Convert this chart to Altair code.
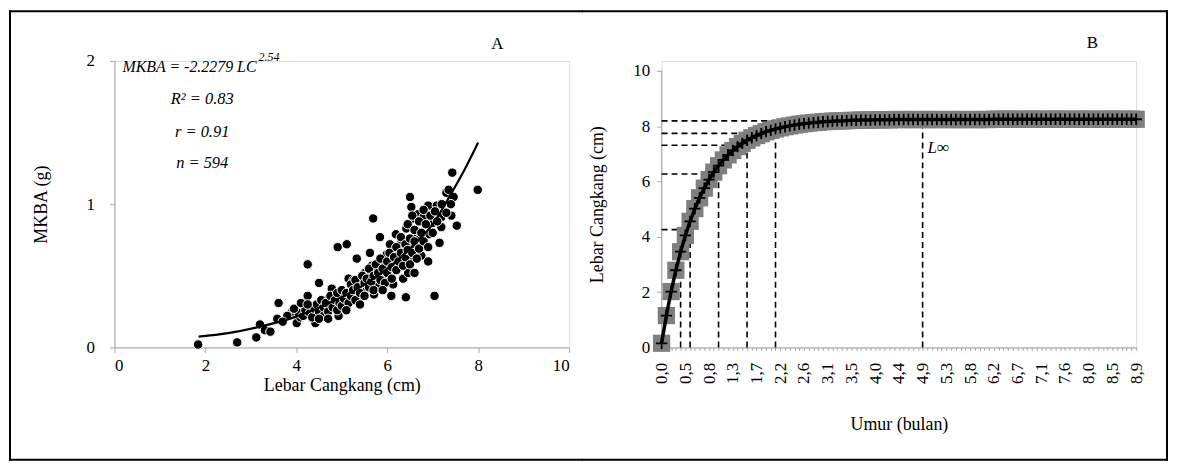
import json
import altair as alt
import pandas as pd

FONT = "Liberation Serif"
GRAY = "#a6a6a6"

# ---------------- Panel A data ----------------
lebar_cangkang = [
    1.84, 2.70, 3.12, 3.20, 3.31, 3.43, 3.61, 3.58, 3.91, 4.01, 4.09, 4.12, 4.25, 4.25, 4.29,
    4.42, 4.45, 4.50, 4.51, 4.67, 4.71, 4.78, 4.82, 4.91, 4.93, 4.96, 5.11, 5.07, 5.15, 5.22,
    5.26, 5.33, 5.40, 5.44, 5.51, 5.55, 5.62, 5.66, 5.69, 5.71, 5.73, 5.80, 5.84, 5.88, 5.97,
    5.99, 6.06, 6.09, 6.13, 6.17, 6.19, 6.24, 6.31, 6.35, 6.41, 6.42, 6.46, 6.50, 6.50, 6.53,
    6.57, 6.60, 6.64, 6.68, 6.72, 6.75, 6.80, 6.82, 6.90, 6.93, 7.01, 7.04, 7.09, 7.15, 7.19,
    7.19, 7.30, 7.41, 7.43, 7.46, 7.53, 7.99,
    4.05, 4.15, 4.20, 4.30, 4.35, 4.40, 4.45, 4.50, 4.55, 4.60, 4.60, 4.65, 4.70, 4.75, 4.80,
    4.85, 4.90, 4.90, 4.95, 5.00, 5.00, 5.05, 5.10, 5.15, 5.20, 5.20, 5.25, 5.30, 5.30, 5.35,
    5.40, 5.45, 5.50, 5.50, 5.55, 5.60, 5.60, 5.65, 5.70, 5.70, 5.75, 5.80, 5.85, 5.85, 5.90,
    5.95, 6.00, 6.00, 6.05, 6.10, 6.10, 6.15, 6.20, 6.20, 6.25, 6.30, 6.30, 6.35, 6.40, 6.40,
    6.45, 6.45, 6.50, 6.50, 6.55, 6.55, 6.60, 6.60, 6.65, 6.70, 6.70, 6.75, 6.80, 6.80, 6.85,
    6.90, 6.95, 7.00, 7.05, 7.10, 7.20, 7.30, 7.35, 7.40, 3.80, 3.70, 3.95, 4.10, 4.25, 4.50,
    4.70, 5.10, 5.40, 5.90, 6.60, 6.90,
]
mkba = [
    0.02, 0.035, 0.07, 0.16, 0.12, 0.11, 0.31, 0.20, 0.25, 0.17, 0.21, 0.28, 0.58, 0.36, 0.29,
    0.17, 0.23, 0.45, 0.29, 0.27, 0.34, 0.41, 0.30, 0.70, 0.22, 0.37, 0.72, 0.35, 0.48, 0.41,
    0.47, 0.62, 0.34, 0.43, 0.52, 0.41, 0.66, 0.57, 0.90, 0.37, 0.53, 0.44, 0.77, 0.59, 0.49,
    0.65, 0.72, 0.36, 0.44, 0.58, 0.79, 0.66, 0.73, 0.48, 0.35, 0.83, 0.52, 1.05, 0.62, 0.98,
    0.90, 0.70, 0.78, 0.93, 0.76, 0.64, 0.91, 0.71, 0.99, 0.79, 0.87, 0.36, 0.99, 0.73, 0.91,
    0.84, 1.08, 0.92, 1.22, 1.05, 0.85, 1.10,
    0.24, 0.22, 0.26, 0.24, 0.21, 0.27, 0.30, 0.25, 0.33, 0.22, 0.28, 0.31, 0.25, 0.36, 0.28,
    0.33, 0.38, 0.26, 0.31, 0.40, 0.29, 0.34, 0.38, 0.31, 0.44, 0.36, 0.40, 0.33, 0.47, 0.42,
    0.38, 0.50, 0.45, 0.36, 0.48, 0.42, 0.55, 0.46, 0.50, 0.40, 0.58, 0.52, 0.47, 0.62, 0.55,
    0.45, 0.60, 0.52, 0.66, 0.56, 0.48, 0.63, 0.70, 0.54, 0.60, 0.77, 0.66, 0.57, 0.72, 0.63,
    0.86, 0.68, 0.76, 0.58, 0.92, 0.66, 0.82, 0.74, 0.62, 0.88, 0.69, 0.80, 0.96, 0.74, 0.86,
    0.70, 0.92, 0.80, 0.95, 0.88, 1.00, 0.94, 1.10, 1.00, 0.22, 0.18, 0.27, 0.31, 0.30, 0.20,
    0.20, 0.26, 0.30, 0.40, 0.52, 0.60,
]
kurva_lc = [1.85, 2.5, 3.2, 4.0, 4.8, 5.5, 6.1, 6.6, 7.0, 7.4, 7.7, 8.0]
kurva_mkba = [0.075, 0.10, 0.145, 0.215, 0.32, 0.44, 0.575, 0.72, 0.86, 1.07, 1.24, 1.43]
tick_x_a = [0, 2, 4, 6, 8, 10]
tick_y_a = [0, 1, 2]

teks_persamaan = "MKBA = -2.2279 LC"
teks_pangkat = "2.54"
teks_statistik = ["R\u00b2 = 0.83", "r = 0.91", "n = 594"]

# ---------------- Panel B data ----------------
umur = [
    0.00, 0.10, 0.20, 0.30, 0.40, 0.50, 0.56, 0.62, 0.68, 0.74,
    0.80, 0.90, 1.00, 1.10, 1.20, 1.30, 1.38, 1.46, 1.54, 1.62,
    1.70, 1.80, 1.90, 2.00, 2.10, 2.20, 2.28, 2.36, 2.44, 2.52,
    2.60, 2.70, 2.80, 2.90, 3.00, 3.10, 3.18, 3.26, 3.34, 3.42,
    3.50, 3.60, 3.70, 3.80, 3.90, 4.00, 4.08, 4.16, 4.24, 4.32,
    4.40, 4.50, 4.60, 4.70, 4.80, 4.90, 4.98, 5.06, 5.14, 5.22,
    5.30, 5.40, 5.50, 5.60, 5.70, 5.80, 5.88, 5.96, 6.04, 6.12,
    6.20, 6.30, 6.40, 6.50, 6.60, 6.70, 6.78, 6.86, 6.94, 7.02,
    7.10, 7.20, 7.30, 7.40, 7.50, 7.60, 7.68, 7.76, 7.84, 7.92,
    8.00, 8.10, 8.20, 8.30, 8.40, 8.50, 8.58, 8.66, 8.74, 8.82,
    8.90,
]
lebar_b = [
    0.15, 1.15, 2.02, 2.79, 3.46, 4.05, 4.56, 5.02, 5.41, 5.76,
    6.07, 6.34, 6.57, 6.78, 6.96, 7.12, 7.26, 7.38, 7.49, 7.58,
    7.66, 7.73, 7.80, 7.85, 7.90, 7.94, 7.98, 8.01, 8.04, 8.07,
    8.09, 8.11, 8.13, 8.14, 8.16, 8.17, 8.18, 8.19, 8.19, 8.20,
    8.21, 8.21, 8.22, 8.22, 8.22, 8.23, 8.23, 8.23, 8.23, 8.24,
    8.24, 8.24, 8.24, 8.24, 8.24, 8.24, 8.24, 8.24, 8.24, 8.24,
    8.24, 8.24, 8.24, 8.24, 8.24, 8.24, 8.24, 8.24, 8.24, 8.24,
    8.25, 8.25, 8.25, 8.25, 8.25, 8.25, 8.25, 8.25, 8.25, 8.25,
    8.25, 8.25, 8.25, 8.25, 8.25, 8.25, 8.25, 8.25, 8.25, 8.25,
    8.25, 8.25, 8.25, 8.25, 8.25, 8.25, 8.25, 8.25, 8.25, 8.25,
    8.25,
]
umur_berlabel = [0.00, 0.50, 0.80, 1.30, 1.70, 2.20, 2.60, 3.10, 3.50, 4.00, 4.40,
                 4.90, 5.30, 5.80, 6.20, 6.70, 7.10, 7.60, 8.00, 8.50, 8.90]
label_umur = ["0,0", "0,5", "0,8", "1,3", "1,7", "2,2", "2,6", "3,1", "3,5", "4,0", "4,4",
              "4,9", "5,3", "5,8", "6,2", "6,7", "7,1", "7,6", "8,0", "8,5", "8,9"]
tick_y_b = [0, 2, 4, 6, 8, 10]

garis_v_umur = [0.40, 0.56, 1.00, 1.54, 2.10, 4.90]
garis_v_tinggi = [3.46, 4.56, 6.57, 7.49, 7.90, 8.22]
garis_h_lebar = [4.26, 6.27, 7.31, 7.74, 8.19]
garis_h_ujung = [0.50, 0.90, 1.38, 1.80, 2.60]

# ---------------- layout (page pixels) ----------------
W_A, H = 457, 288
W_B = 477
A_LEFT, TOP_PLOT = 113, 58
B_LEFT = 662
SPLIT, RIGHT, TOP, BOTTOM = 583, 1170, 8, 459
B_YMAX = 10 * 288 / 278  # top of B's value axis sits 10 px below the plot top

axis_common = dict(domainColor=GRAY, tickColor=GRAY, labelFont=FONT, titleFont=FONT,
                   labelColor="black", titleColor="black", titleFontWeight="normal",
                   grid=False, labelFontSize=17, titleFontSize=18, labelOverlap=False)

# ---------------- Panel A ----------------
XA = alt.X("lc:Q", scale=alt.Scale(domain=[0, 10], nice=False),
           axis=alt.Axis(values=tick_x_a, labelExpr="'' + datum.value",
                         title="Lebar Cangkang (cm)", tickSize=5,
                         labelPadding=5, titlePadding=3, **axis_common))
YA = alt.Y("m:Q", scale=alt.Scale(domain=[0, 2], nice=False),
           axis=alt.Axis(values=tick_y_a, labelExpr="'' + datum.value", title="MKBA (g)",
                         tickSize=5, labelPadding=15, titlePadding=36, **axis_common))

df_a = pd.DataFrame({"lc": lebar_cangkang, "m": mkba})
df_curve = pd.DataFrame({"lc": kurva_lc, "m": kurva_mkba})

scatter = alt.Chart(df_a).mark_circle(size=90, color="black", opacity=1,
                                      stroke="white", strokeWidth=1).encode(x=XA, y=YA)
curve = alt.Chart(df_curve).mark_line(color="black", strokeWidth=2.2,
                                      interpolate="monotone").encode(x=XA, y=YA)

eq1 = alt.Chart(pd.DataFrame({"lc": [0.175], "m": [1.96], "t": [teks_persamaan]})).mark_text(
    font=FONT, fontStyle="italic", fontSize=16, align="left", baseline="middle", color="black"
).encode(x=XA, y=YA, text="t:N")
eq_sup = alt.Chart(pd.DataFrame({"lc": [3.17], "m": [2.025], "t": [teks_pangkat]})).mark_text(
    font=FONT, fontStyle="italic", fontSize=12, align="left", baseline="middle", color="black"
).encode(x=XA, y=YA, text="t:N")
stats = alt.Chart(pd.DataFrame({"lc": [1.93, 1.93, 1.93], "m": [1.735, 1.505, 1.289],
                                "t": teks_statistik})).mark_text(
    font=FONT, fontStyle="italic", fontSize=16.5, align="center", baseline="middle", color="black"
).encode(x=XA, y=YA, text="t:N")
lbl_a = alt.Chart(pd.DataFrame({"lc": [8.42], "m": [2.12], "t": ["A"]})).mark_text(
    font=FONT, fontSize=17, align="center", baseline="middle", color="black"
).encode(x=XA, y=YA, text="t:N")

one = pd.DataFrame({"k": [0]})


def seg(x, y, x2=None, y2=None):
    enc = dict(x=alt.value(x), y=alt.value(y))
    if x2 is not None:
        enc["x2"] = alt.value(x2)
    if y2 is not None:
        enc["y2"] = alt.value(y2)
    return alt.Chart(one).mark_rule(color="black", strokeWidth=2, strokeCap="square").encode(**enc)


frame_a = [
    seg(8 - A_LEFT, TOP - TOP_PLOT, y2=BOTTOM - TOP_PLOT),
    seg(8 - A_LEFT, TOP - TOP_PLOT, x2=SPLIT - A_LEFT),
    seg(8 - A_LEFT, BOTTOM - TOP_PLOT, x2=SPLIT - A_LEFT),
]
frame_b = [
    seg(SPLIT - B_LEFT, TOP - TOP_PLOT, x2=RIGHT - B_LEFT),
    seg(SPLIT - B_LEFT, BOTTOM - TOP_PLOT, x2=RIGHT - B_LEFT),
    seg(RIGHT - B_LEFT, TOP - TOP_PLOT, y2=BOTTOM - TOP_PLOT),
]

panel_a = alt.layer(scatter, curve, eq1, eq_sup, stats, lbl_a, *frame_a).properties(
    width=W_A, height=H)

# ---------------- Panel B ----------------
label_expr = f"{json.dumps(label_umur)}[indexof({json.dumps(umur_berlabel)}, datum.value)] || ''"

XB = alt.X("umur:O", sort="ascending", scale=alt.Scale(type="point", padding=0),
           axis=alt.Axis(values=umur, labelExpr=label_expr, labelAngle=270,
                         title="Umur (bulan)", tickSize=3, labelPadding=12, titlePadding=32,
                         **axis_common))
YB = alt.Y("lebar:Q", scale=alt.Scale(domain=[0, B_YMAX], nice=False),
           axis=alt.Axis(values=tick_y_b, domain=False, title="Lebar Cangkang (cm)", tickSize=5,
                         labelPadding=7, titlePadding=26, **axis_common))

df_b = pd.DataFrame({"umur": umur, "lebar": lebar_b})

rows = []
for i, (u, h) in enumerate(zip(garis_v_umur, garis_v_tinggi)):
    rows.append({"id": f"v{i}", "umur": u, "lebar": 0})
    rows.append({"id": f"v{i}", "umur": u, "lebar": h})
for i, (h, u) in enumerate(zip(garis_h_lebar, garis_h_ujung)):
    rows.append({"id": f"h{i}", "umur": umur[0], "lebar": h})
    rows.append({"id": f"h{i}", "umur": u, "lebar": h})
df_dash = pd.DataFrame(rows)

y_axis_line = alt.Chart(pd.DataFrame({"lebar": [tick_y_b[0]], "lebar2": [tick_y_b[-1]]})).mark_rule(
    color=GRAY, strokeWidth=1).encode(x=alt.value(0), y=YB, y2="lebar2")
dash = alt.Chart(df_dash).mark_line(color="black", strokeWidth=1.6, strokeDash=[6, 4]).encode(
    x=XB, y=YB, detail="id:N")
squares = alt.Chart(df_b).mark_point(shape="square", filled=True, color="#7f7f7f", size=300,
                                     opacity=1).encode(x=XB, y=YB)
line_b = alt.Chart(df_b).mark_line(color="black", strokeWidth=3.5).encode(x=XB, y=YB)
plus = alt.Chart(df_b).mark_point(shape="M-1,0L1,0M0,-1L0,1", filled=False, color="black",
                                  strokeWidth=1.8, size=130, opacity=1).encode(x=XB, y=YB)
linf = alt.Chart(pd.DataFrame({"umur": [4.90], "lebar": [7.2], "t": ["L\u221e"]})).mark_text(
    font=FONT, fontStyle="italic", fontSize=17, align="left", baseline="middle", dx=5,
    color="black").encode(x=XB, y=YB, text="t:N")
lbl_b = alt.Chart(one).mark_text(font=FONT, fontSize=17, align="center", baseline="middle",
                                 color="black", text="B").encode(
    x=alt.value(1095 - B_LEFT), y=alt.value(40 - TOP_PLOT))

panel_b = alt.layer(y_axis_line, dash, squares, line_b, plus, linf, lbl_b, *frame_b).properties(
    width=W_B, height=H)

chart = alt.hconcat(panel_a, panel_b, spacing=-3, padding=0, background="white").configure_view(
    stroke=None).configure_axis(labelFont=FONT, titleFont=FONT).configure(font=FONT)

chart.save("out.html", embed_options={"renderer": "svg", "actions": False})
